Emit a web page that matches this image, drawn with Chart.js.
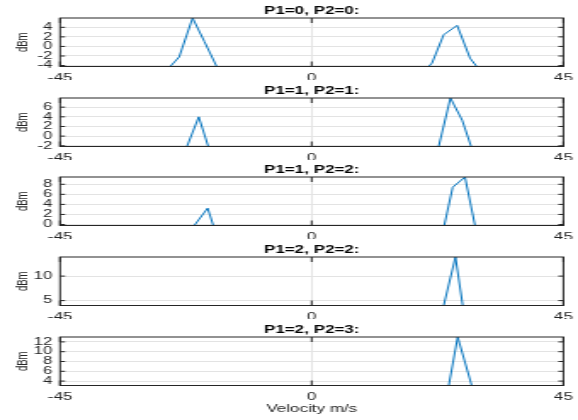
<!DOCTYPE html>
<html>
<head>
<meta charset="utf-8">
<script src="https://cdn.jsdelivr.net/npm/chart.js@4/dist/chart.umd.min.js"></script>
<style>
  body { margin: 0; background: #fff; }
  #fig { position: relative; width: 578px; height: 420px; overflow: hidden; background: #fff; }
  .panel { position: absolute; left: 0; width: 340px; transform: scaleX(1.7); transform-origin: 0 0; }
</style>
</head>
<body>
<div id="fig"></div>
<script>
const titles = ['P1=0, P2=0:', 'P1=1, P2=1:', 'P1=1, P2=2:', 'P1=2, P2=2:', 'P1=2, P2=3:']

// velocity (m/s) / power (dBm)
const vel1 = [-45, -25.3, -23.7, -21.3, -19.2, -17.0, 20.9, 21.5, 23.6, 26.0, 28.3, 29.5, 45]
const dbm1 = [-4.2, -4.2, -2.2, 5.95, 1.05, -4.2, -4.2, -3.5, 2.45, 4.4, -2.45, -4.2, -4.2]

const vel2 = [-45, -22.3, -20.2, -18.5, 22.7, 24.8, 26.9, 28.5, 45]
const dbm2 = [-2.15, -2.15, 4.0, -2.15, -2.15, 7.9, 3.3, -2.15, -2.15]

const vel3 = [-45, -21.0, -18.6, -17.6, 23.7, 25.2, 27.4, 29.2, 45]
const dbm3 = [-0.2, -0.2, 3.25, -0.2, -0.2, 7.4, 9.45, -0.2, -0.2]

const vel4 = [-45, 23.6, 25.7, 27.0, 45]
const dbm4 = [4.0, 4.0, 13.9, 4.0, 4.0]

const vel5 = [-45, 24.5, 26.1, 28.6, 45]
const dbm5 = [3.1, 3.1, 13.0, 3.1, 3.1]

const xTicks = [-45, 0, 45]
const yTicks1 = [-4, -2, 0, 2, 4]
const yTicks2 = [-2, 0, 2, 4, 6]
const yTicks3 = [0, 2, 4, 6, 8]
const yTicks4 = [5, 10]
const yTicks5 = [4, 6, 8, 10, 12]

const yLim1 = [-4.2, 5.95]
const yLim2 = [-2.15, 7.9]
const yLim3 = [-0.2, 9.45]
const yLim4 = [4.0, 13.9]
const yLim5 = [3.1, 13.0]

const panels = [
  {vel: vel1, dbm: dbm1, ticks: yTicks1, lim: yLim1},
  {vel: vel2, dbm: dbm2, ticks: yTicks2, lim: yLim2},
  {vel: vel3, dbm: dbm3, ticks: yTicks3, lim: yLim3},
  {vel: vel4, dbm: dbm4, ticks: yTicks4, lim: yLim4},
  {vel: vel5, dbm: dbm5, ticks: yTicks5, lim: yLim5},
]

const tops = [0, 80, 159, 239, 319]
const FONT = "'Liberation Sans', Arial, sans-serif"
const AXIS = '#262626'

// matlab style box with inward ticks, drawn over the line
const boxPlugin = {
  id: 'box',
  afterDatasetsDraw(chart) {
    const {ctx, chartArea: a, scales: {x, y}} = chart
    ctx.save()
    ctx.strokeStyle = AXIS
    ctx.lineWidth = 1
    ctx.strokeRect(a.left, a.top, a.right - a.left, a.bottom - a.top)
    ctx.beginPath()
    y.ticks.forEach(t => {
      const py = y.getPixelForValue(t.value)
      ctx.moveTo(a.left, py); ctx.lineTo(a.left + 3, py)
      ctx.moveTo(a.right, py); ctx.lineTo(a.right - 3, py)
    })
    x.ticks.forEach(t => {
      const px = x.getPixelForValue(t.value)
      ctx.moveTo(px, a.top); ctx.lineTo(px, a.top + 5)
      ctx.moveTo(px, a.bottom); ctx.lineTo(px, a.bottom - 5)
    })
    ctx.stroke()
    ctx.restore()
  }
}

const fig = document.getElementById('fig')

panels.forEach((p, i) => {
  const last = i === panels.length - 1
  const h = last ? 100 : 80

  const box = document.createElement('div')
  box.className = 'panel'
  box.style.top = tops[i] + 'px'
  box.style.height = h + 'px'
  const cv = document.createElement('canvas')
  box.appendChild(cv)
  fig.appendChild(box)

  const pts = p.vel.map((v, k) => ({x: v, y: p.dbm[k]}))

  new Chart(cv, {
    type: 'line',
    data: {
      datasets: [{
        data: pts,
        borderColor: '#0072BD',
        borderWidth: 1,
        pointRadius: 0,
        tension: 0,
        fill: false
      }]
    },
    options: {
      animation: false,
      responsive: true,
      maintainAspectRatio: false,
      layout: {padding: {left: 0, right: 8.6, top: 0, bottom: 0}},
      plugins: {
        legend: {display: false},
        tooltip: {enabled: false},
        title: {
          display: true,
          text: titles[i],
          fullSize: false,
          color: '#000',
          font: {family: FONT, size: 10, weight: 'bold'},
          padding: {top: 5.5, bottom: 0.5}
        }
      },
      scales: {
        x: {
          type: 'linear',
          min: -45,
          max: 45,
          bounds: 'data',
          afterBuildTicks: s => { s.ticks = xTicks.map(v => ({value: v})) },
          afterFit: s => {
            s.height = last ? 33.5 : 13.5
            s.paddingLeft = 0
            s.paddingRight = 0
          },
          grid: {color: '#e3e3e3', drawTicks: false},
          border: {display: false},
          ticks: {color: AXIS, font: {family: FONT, size: 10}, padding: 5.5, maxRotation: 0, autoSkip: false},
          title: {
            display: last,
            text: 'Velocity m/s',
            color: AXIS,
            font: {family: FONT, size: 10},
            padding: {top: 0, bottom: 3.5}
          }
        },
        y: {
          min: p.lim[0],
          max: p.lim[1],
          bounds: 'data',
          afterBuildTicks: s => { s.ticks = p.ticks.map(v => ({value: v})) },
          afterFit: s => {
            s.width = 35.3
            s.paddingTop = 0
            s.paddingBottom = 0
          },
          grid: {color: '#e3e3e3', drawTicks: false},
          border: {display: false},
          ticks: {color: AXIS, font: {family: FONT, size: 10}, padding: 4.5, autoSkip: false},
          title: {
            display: true,
            text: 'dBm',
            color: AXIS,
            font: {family: FONT, size: 9.5},
            padding: {top: 8, bottom: 0}
          }
        }
      }
    },
    plugins: [boxPlugin]
  })
})
</script>
</body>
</html>
